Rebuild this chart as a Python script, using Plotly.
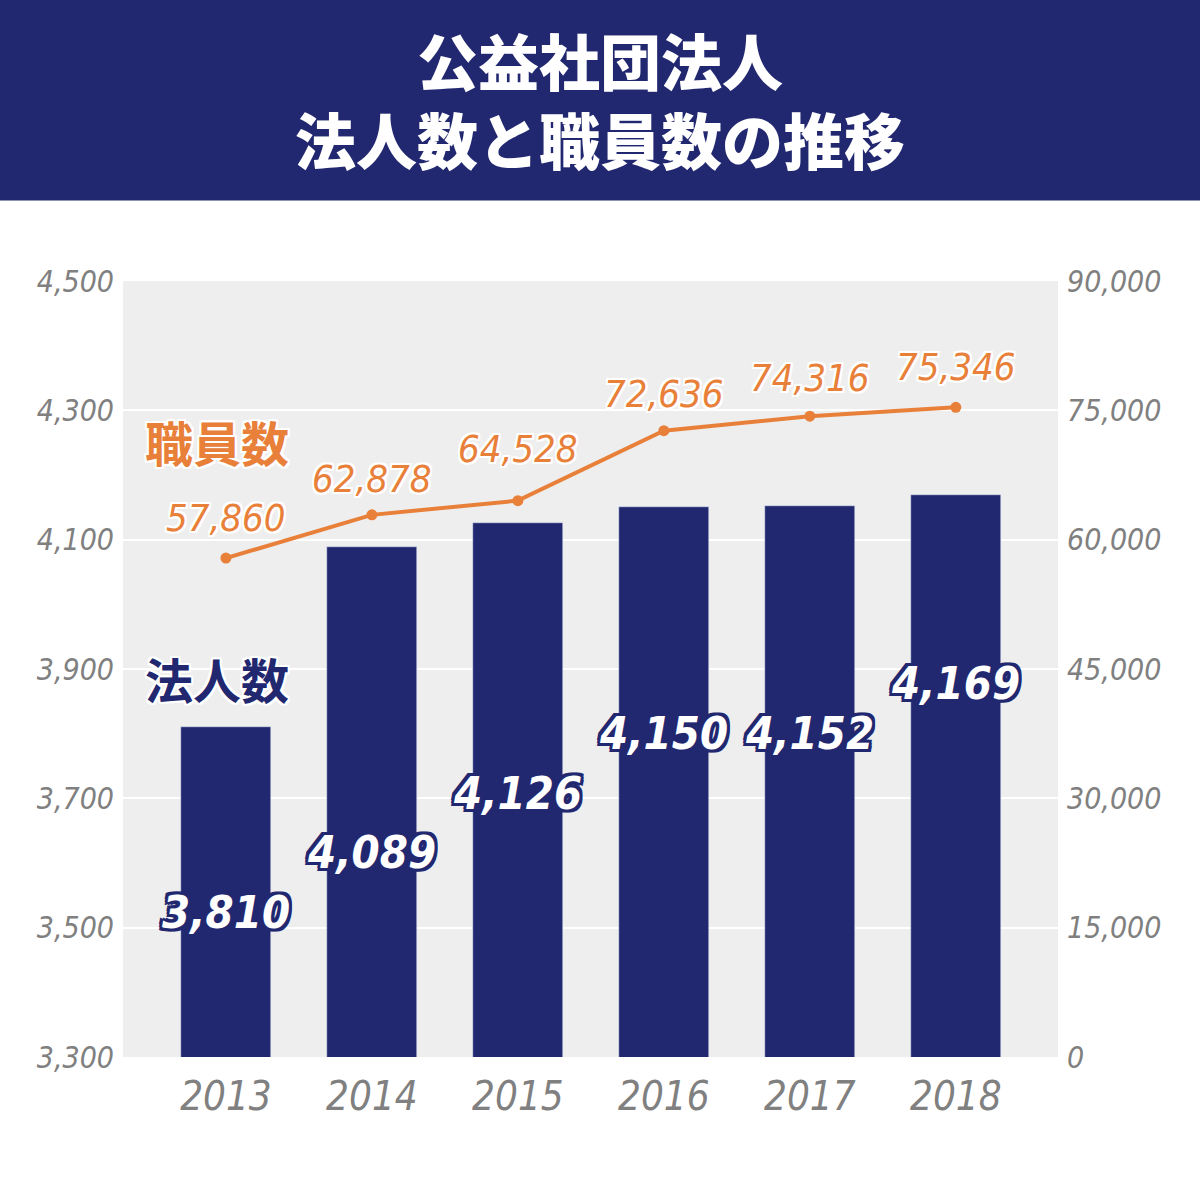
import plotly.graph_objects as go

years = ["2013", "2014", "2015", "2016", "2017", "2018"]
corporations = [3810, 4089, 4126, 4150, 4152, 4169]
employees = [57860, 62878, 64528, 72636, 74316, 75346]
left_ticks = [3300, 3500, 3700, 3900, 4100, 4300, 4500]
right_ticks = [0, 15000, 30000, 45000, 60000, 75000, 90000]

# label placement (layout only)
bar_label_y = [3524, 3617, 3708, 3800, 3800, 3878]
line_label_shift = [40, 36, 52, 37, 38, 40]

NAVY = "#222870"
ORANGE = "#e8803a"
GRAY = "#808080"
NUMFONT = "DejaVu Sans Condensed, DejaVu Sans, sans-serif"
CJK = "Noto Sans CJK JP, sans-serif"

def outline(color, w):
    parts = []
    for dx in (-w, 0, w):
        for dy in (-w, 0, w):
            if dx or dy:
                parts.append(f"{dx}px {dy}px 0 {color}")
    return ", ".join(parts)

W, H = 1200, 1185
L, R, T, B = 123, 1058, 280.5, 1057.5
pw, ph = R - L, B - T

def px_x(x):
    return (x - L) / pw

def px_y(y):
    return (B - y) / ph

fig = go.Figure()
fig.add_trace(go.Bar(
    x=years, y=corporations, marker_color=NAVY, width=0.616,
    yaxis="y", hoverinfo="skip",
))
fig.add_trace(go.Scatter(
    x=years, y=employees, mode="lines+markers", yaxis="y2",
    line=dict(color=ORANGE, width=4), marker=dict(size=11, color=ORANGE),
    hoverinfo="skip",
))

annotations = []
for i, (v, ly) in enumerate(zip(corporations, bar_label_y)):
    annotations.append(dict(
        x=i, y=ly, xref="x", yref="y", text=f"{v:,}", showarrow=False,
        xanchor="center", yanchor="middle",
        font=dict(family=NUMFONT, size=45, color="white", weight="bold",
                  style="italic", shadow=outline(NAVY, 3)),
    ))
for i, (v, s) in enumerate(zip(employees, line_label_shift)):
    annotations.append(dict(
        x=i, y=v, xref="x", yref="y2", text=f"{v:,}", showarrow=False,
        yshift=s, xanchor="center", yanchor="middle",
        font=dict(family=NUMFONT, size=38, color=ORANGE, style="italic",
                  shadow=outline("white", 2)),
    ))

# series labels
annotations.append(dict(
    x=px_x(217), y=px_y(441), xref="paper", yref="paper", text="職員数",
    showarrow=False, xanchor="center", yanchor="middle",
    font=dict(family=CJK, size=48, color=ORANGE, weight="bold",
              shadow=outline("white", 2)),
))
annotations.append(dict(
    x=px_x(217), y=px_y(678), xref="paper", yref="paper", text="法人数",
    showarrow=False, xanchor="center", yanchor="middle",
    font=dict(family=CJK, size=48, color=NAVY, weight="bold",
              shadow=outline("white", 2)),
))
# title (single text block)
annotations.append(dict(
    x=px_x(600), y=px_y(98), xref="paper", yref="paper",
    text="公益社団法人<br>法人数と職員数の推移",
    showarrow=False, xanchor="center", yanchor="middle", align="center",
    font=dict(family=CJK, size=61, color="white", weight=900),
))

fig.update_layout(
    width=W, height=H,
    margin=dict(l=L, r=W - R, t=T, b=H - B, pad=0),
    paper_bgcolor="white", plot_bgcolor="#eeeeee",
    showlegend=False, bargap=0,
    xaxis=dict(
        type="category", range=[-0.705, 5.70], showgrid=False,
        zeroline=False, showline=False, ticks="",
        tickfont=dict(family=NUMFONT, size=40, color=GRAY, style="italic"),
        ticklabelstandoff=12,
    ),
    yaxis=dict(
        range=[3300, 4500], tickvals=left_ticks,
        ticktext=[f"{t:,}" for t in left_ticks],
        showgrid=True, gridcolor="white", gridwidth=2, zeroline=False,
        showline=False, ticks="",
        tickfont=dict(family=NUMFONT, size=30, color=GRAY, style="italic"),
        ticklabelstandoff=8,
    ),
    yaxis2=dict(
        range=[0, 90000], tickvals=right_ticks,
        ticktext=[f"{t:,}" for t in right_ticks],
        overlaying="y", side="right", showgrid=False, zeroline=False,
        showline=False, ticks="",
        tickfont=dict(family=NUMFONT, size=30, color=GRAY, style="italic"),
        ticklabelstandoff=8,
    ),
    shapes=[dict(
        type="rect", xref="paper", yref="paper",
        x0=px_x(-5), x1=px_x(W + 5), y0=px_y(200), y1=px_y(-5),
        fillcolor=NAVY, line=dict(width=0), layer="below",
    )],
    annotations=annotations,
)

fig.write_html("out.html")
